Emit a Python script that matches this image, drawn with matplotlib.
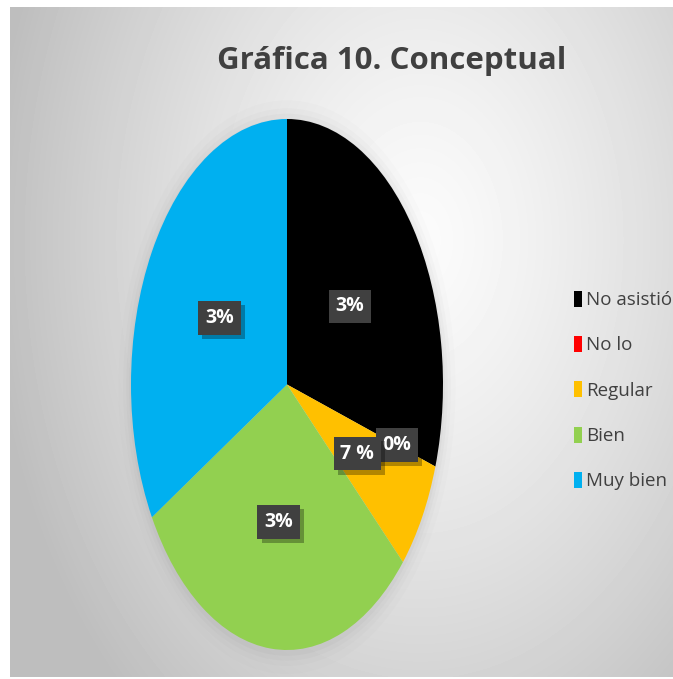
import numpy as np
import matplotlib.pyplot as plt
from matplotlib.patches import Patch, Ellipse
import matplotlib.patheffects as pe

# data
categories = ['No asistió', 'No lo', 'Regular', 'Bien', 'Muy bien']
counts = [9, 0, 2, 9, 10]
pct_labels = ['3%', '0%', '7 %', '3%', '3%']
label_dist = [0.5, 0.74, 0.52, 0.52, 0.5]
colors = ['#000000', '#ff0000', '#ffc000', '#92d050', '#00b0f0']
title = 'Gráfica 10. Conceptual'

W, H = 673, 679
fig = plt.figure(figsize=(W / 100, H / 100), dpi=100)
fig.patch.set_facecolor('white')

# gray gradient background of the chart area
bg = fig.add_axes([0, 0, 1, 1])
bg.set_xlim(0, W)
bg.set_ylim(H, 0)
bg.axis('off')
x0, x1, y0, y1 = 10, W, 7, 677
yy, xx = np.mgrid[y0:y1, x0:x1]
d = np.sqrt(((xx - 420) / 430.0) ** 2 + ((yy - 240) / 620.0) ** 2)
shade = 0.985 - 0.24 * np.clip(d, 0, 1) ** 1.3
bg.imshow(shade, cmap='gray', vmin=0, vmax=1, extent=(x0, x1, y1, y0),
          aspect='auto', interpolation='bilinear')

# pie, stretched into an ellipse
ax = fig.add_axes([131 / W, 29 / H, 312 / W, 531 / H])
ax.patch.set_visible(False)

# soft shadow around the pie
for s, a in [(1.08, 0.025), (1.05, 0.035), (1.03, 0.045), (1.012, 0.06)]:
    ax.add_patch(Ellipse((0.0, -0.01), 2 * s, 2 * s, fc='#808080', ec='none',
                         alpha=a, clip_on=False, zorder=0))

wedges, _ = ax.pie(counts, colors=colors, startangle=90, counterclock=False,
                   wedgeprops=dict(edgecolor='none'), radius=1)
ax.set_aspect('auto')
ax.set_xlim(-1, 1)
ax.set_ylim(-1, 1)

for w, lab, r in zip(wedges, pct_labels, label_dist):
    mid = np.deg2rad((w.theta1 + w.theta2) / 2)
    t = ax.text(r * np.cos(mid), r * np.sin(mid), lab, ha='center', va='center',
                color='white', fontsize=14, fontweight='bold', family='Open Sans',
                bbox=dict(boxstyle='square,pad=0.35', fc='#404040', ec='none'),
                zorder=5)
    t.get_bbox_patch().set_path_effects([
        pe.SimplePatchShadow(offset=(3, -3), shadow_rgbFace='black', alpha=0.3),
        pe.Normal()])

fig.text(392 / W, 1 - 61 / H, title, ha='center', va='center', fontsize=22.5,
         fontweight='bold', color='#404040', family='Open Sans')

handles = [Patch(facecolor=c, edgecolor='none') for c in colors]
fig.legend(handles, categories, loc='upper left',
           bbox_to_anchor=(566 / W, 1 - 283 / H), frameon=False,
           handlelength=0.45, handleheight=0.95,
           handletextpad=0.2, labelspacing=1.43, labelcolor='#404040',
           prop=dict(family='Open Sans', size=13.5), borderaxespad=0)

fig.savefig('out.png', dpi=100)
